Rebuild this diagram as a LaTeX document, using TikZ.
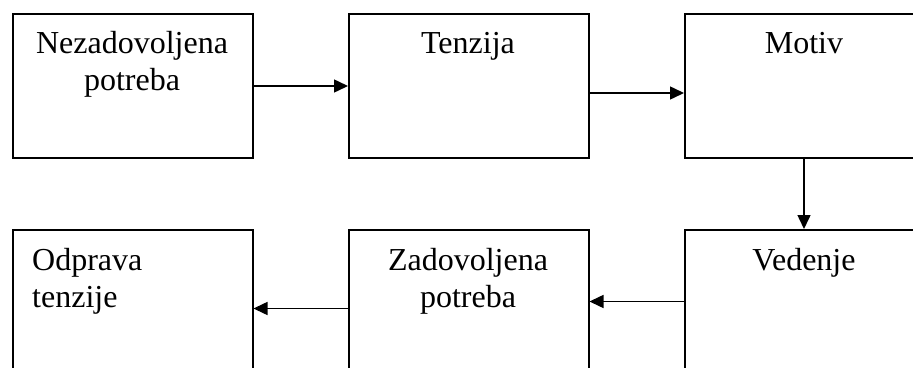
\documentclass[tikz,border=0pt]{standalone}
\usepackage{fontspec}
\setmainfont{Liberation Serif}
\usetikzlibrary{arrows.meta}
\begin{document}
\begin{tikzpicture}[x=1pt,y=-1pt,
  box/.style={draw, line width=1.5pt, minimum width=240pt, minimum height=144pt, anchor=north west, inner sep=0pt},
  lbl/.style={font=\fontsize{32}{37}\selectfont, align=center, anchor=base, inner sep=0pt},
  lbll/.style={font=\fontsize{32}{37}\selectfont, align=left, anchor=base west, inner sep=0pt},
  arr/.style={line width=1.5pt, -{Triangle[length=14pt,width=13pt]}}]
\useasboundingbox (0,0) rectangle (913,367);
\clip (0,0) rectangle (913,367);
% top row
\node[box] (b1) at (12,13) {};
\node[box] (b2) at (348,13) {};
\node[box] (b3) at (684,13) {};
% bottom row
\node[box] (b4) at (12,229) {};
\node[box] (b5) at (348,229) {};
\node[box] (b6) at (684,229) {};
% labels (base anchor = last line baseline)
\node[lbl] (t1) at (132,90) {Nezadovoljena\\potreba};
\node[lbl] (t2) at (468,53) {Tenzija};
\node[lbl] (t3) at (804,53) {Motiv};
\node[lbll] (t4) at (32,307) {Odprava\\tenzije};
\node[lbl] (t5) at (468,307) {Zadovoljena\\potreba};
\node[lbl] (t6) at (804,270) {Vedenje};
% connectors
\draw[arr] (b1.east |- 0,86) -- (b2.west |- 0,86);
\draw[arr] (b2.east |- 0,93) -- (b3.west |- 0,93);
\draw[arr] (b3.south -| 804,0) -- (b6.north -| 804,0);
\draw[arr] (b6.west |- 0,301.5) -- (b5.east |- 0,301.5);
\draw[arr] (b5.west |- 0,308.5) -- (b4.east |- 0,308.5);
\end{tikzpicture}
\end{document}
